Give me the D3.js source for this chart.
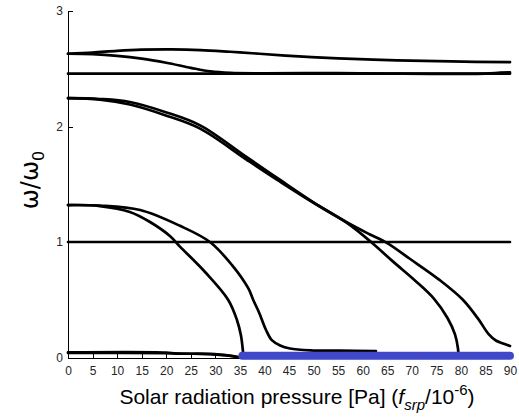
<!DOCTYPE html>
<html>
<head>
<meta charset="utf-8">
<script src="https://cdn.jsdelivr.net/npm/d3@7"></script>
<style>
  body { margin: 0; background: #fff; }
  svg { display: block; }
  .axis text { font-family: "Liberation Sans", Arial, sans-serif; font-size: 12px; fill: #262626; }
  .axis path, .axis line { stroke: #000; stroke-width: 1; shape-rendering: crispEdges; }
  .curve { fill: none; stroke: #000; stroke-width: 2.7; stroke-linejoin: round; stroke-linecap: round; }
</style>
</head>
<body>
<svg id="chart" width="519" height="420"></svg>
<script>
// [srp (x 1e-6 Pa), omega / omega0]
var topRising = [[0, 2.63], [5, 2.64], [10, 2.655], [15, 2.665], [21, 2.668], [27, 2.662],
  [33, 2.647], [39, 2.63], [47, 2.607], [55, 2.59], [67, 2.573], [78, 2.563], [90, 2.557]];
var topFalling = [[0, 2.63], [5, 2.626], [10, 2.612], [15, 2.588], [20, 2.552], [25, 2.508],
  [29, 2.477], [33, 2.464], [40, 2.461], [55, 2.462], [65, 2.458], [85, 2.458], [88, 2.466], [90, 2.468]];
var flatHigh = [[0, 2.457], [90, 2.457]];
var midSteep = [[0, 2.245], [6.5, 2.238], [12.6, 2.212], [19.75, 2.126], [26.9, 2.01], [36.4, 1.735],
  [43.2, 1.537], [49.9, 1.346], [56.8, 1.165], [61.7, 1.0], [66.2, 0.83], [70.7, 0.665],
  [74.5, 0.51], [77.3, 0.34], [78.8, 0.2], [79.4, 0.08], [79.5, 0.02]];
var midTail = [[0, 2.245], [6.5, 2.232], [12.6, 2.19], [19.75, 2.098], [26.9, 1.982], [36.4, 1.712],
  [43.2, 1.522], [49.9, 1.342], [57.4, 1.156], [61.5, 1.065], [65, 0.99], [69.6, 0.855],
  [75.7, 0.67], [80.4, 0.5], [83.6, 0.33], [85.6, 0.205], [87.2, 0.145], [88.6, 0.122], [90, 0.1]];
var flatOne = [[0, 1.0], [90, 1.0]];
var lowSteep = [[0, 1.32], [6.5, 1.311], [12.6, 1.26], [16.7, 1.173], [20.8, 1.05], [22.8, 0.96],
  [27.9, 0.74], [32.6, 0.5], [34.4, 0.325], [35.2, 0.195], [35.6, 0.065], [35.7, 0.013]];
var lowTail = [[0, 1.32], [6.5, 1.316], [14.7, 1.277], [22.8, 1.14], [28.9, 1.0], [33.4, 0.8],
  [36.7, 0.6], [37.7, 0.5], [38.9, 0.39], [40.3, 0.24], [41.5, 0.15], [43.2, 0.104], [45.2, 0.078],
  [49.3, 0.062], [55.4, 0.059], [62.7, 0.056]];
var bottomA = [[0, 0.045], [20, 0.043], [22, 0.034], [29, 0.031], [33, 0.015], [35, 0.002]];
var bottomB = [[0, 0.039], [20, 0.037], [29, 0.028], [32, 0.02], [34.5, 0.002]];
var unstable = [[35.5, 0.015], [90, 0.015]];

var blackCurves = [topRising, topFalling, flatHigh, midSteep, midTail, flatOne,
  lowSteep, lowTail, bottomA, bottomB];

var xTicks = d3.range(0, 91, 5);
var yTicks = [0, 1, 2, 3];

var svg = d3.select('#chart');

var x = d3.scaleLinear().domain([0, 90]).range([68, 510]);
var y = d3.scaleLinear().domain([0, 3]).range([357.5, 11]);

var line = d3.line()
  .x(function(d) { return x(d[0]); })
  .y(function(d) { return y(d[1]); })
  .curve(d3.curveCatmullRom.alpha(0.5));

// axes: MATLAB style, ticks pointing inside, no box
svg.append('g')
  .attr('class', 'axis')
  .attr('transform', 'translate(0,' + y(0) + ')')
  .call(d3.axisBottom(x).tickValues(xTicks).tickSizeInner(-4).tickSizeOuter(0).tickPadding(9));

svg.append('g')
  .attr('class', 'axis')
  .attr('transform', 'translate(' + x(0) + ',0)')
  .call(d3.axisLeft(y).tickValues(yTicks).tickFormat(d3.format('d'))
    .tickSizeInner(-5).tickSizeOuter(0).tickPadding(5));

// stable branches
svg.append('g')
  .selectAll('path')
  .data(blackCurves)
  .enter().append('path')
  .attr('class', 'curve')
  .attr('d', line);

// flutter region
svg.append('path')
  .datum(unstable)
  .attr('d', line)
  .attr('fill', 'none')
  .attr('stroke', '#4047c8')
  .attr('stroke-width', 8)
  .attr('stroke-linecap', 'round');

// x label
var xLabel = svg.append('text')
  .attr('x', 297)
  .attr('y', 404)
  .attr('text-anchor', 'middle')
  .style('font-family', '"Liberation Sans", Arial, sans-serif')
  .style('font-size', '21px')
  .attr('fill', '#000');

xLabel.append('tspan').text('Solar radiation pressure [Pa] (');
xLabel.append('tspan').style('font-style', 'italic').text('f');
xLabel.append('tspan').style('font-style', 'italic').style('font-size', '15px')
  .attr('dy', 6).text('srp');
xLabel.append('tspan').attr('dy', -6).text('/10');
xLabel.append('tspan').style('font-size', '15px').attr('dy', -9).text('-6');
xLabel.append('tspan').attr('dy', 9).text(')');

// y label
var yLabel = svg.append('text')
  .attr('transform', 'translate(38,180) rotate(-90)')
  .attr('text-anchor', 'middle')
  .style('font-family', '"DejaVu Sans", sans-serif')
  .style('font-size', '24px')
  .attr('fill', '#000');

yLabel.append('tspan').text('\u03c9/\u03c9');
yLabel.append('tspan').style('font-size', '16px').attr('dy', 6).text('0');
</script>
</body>
</html>
